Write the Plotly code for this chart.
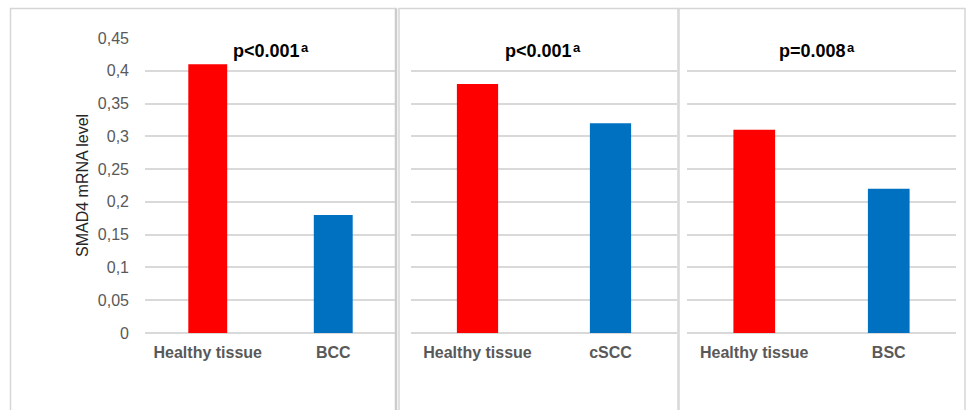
import plotly.graph_objects as go

W, H = 968, 410

# Data
panels = ["BCC", "cSCC", "BSC"]
categories = [["Healthy tissue", "BCC"], ["Healthy tissue", "cSCC"], ["Healthy tissue", "BSC"]]
values = [[0.41, 0.18], [0.38, 0.32], [0.31, 0.22]]
p_labels = ["p&lt;0.001", "p&lt;0.001", "p=0.008"]
p_note = "a"
y_ticks = [0, 0.05, 0.1, 0.15, 0.2, 0.25, 0.3, 0.35, 0.4, 0.45]
y_tick_text = ["0", "0,05", "0,1", "0,15", "0,2", "0,25", "0,3", "0,35", "0,4", "0,45"]
bar_colors = ["#FF0000", "#0070C0"]

# Pixel layout helpers
def px(x):
    return x / W

def py(y):
    return 1 - y / H

plot_x = [(145, 396), (411, 677), (687, 956)]
plot_y = (38, 333)
boxes = [(10.5, 396), (399, 678), (679, 965)]
p_text_end = [300, 572, 846]

FONT = "Liberation Sans, Arial, sans-serif"
GRID = "#d9d9d9"

fig = go.Figure()
for i in range(3):
    sfx = "" if i == 0 else str(i + 1)
    fig.add_trace(go.Bar(
        x=categories[i], y=values[i],
        marker=dict(color=bar_colors, line=dict(width=0)),
        width=0.31,
        xaxis="x" + sfx, yaxis="y" + sfx,
        showlegend=False, hoverinfo="x+y",
    ))
    fig.layout["xaxis" + sfx] = dict(
        domain=[px(plot_x[i][0]), px(plot_x[i][1])],
        anchor="y" + sfx, type="category",
        showgrid=False, showline=False, zeroline=False, ticks="",
        tickvals=categories[i],
        ticktext=["<b>%s</b>" % c for c in categories[i]],
        tickfont=dict(family=FONT, size=16, color="#595959"),
        ticklabelstandoff=8, fixedrange=True, automargin=False,
    )
    fig.layout["yaxis" + sfx] = dict(
        domain=[py(plot_y[1]), py(plot_y[0])],
        anchor="x" + sfx, range=[0, 0.45],
        tickvals=y_ticks, ticktext=y_tick_text,
        showticklabels=(i == 0),
        tickfont=dict(family=FONT, size=16, color="#595959"),
        showgrid=True, gridcolor=GRID, gridwidth=1.5,
        zeroline=True, zerolinecolor=GRID, zerolinewidth=1.5,
        showline=False, ticks="", ticklabelstandoff=15, fixedrange=True,
        automargin=False,
    )
    # p-value with its footnote marker
    fig.add_annotation(
        text="<b>%s</b>" % p_labels[i],
        xref="paper", yref="paper",
        x=px(p_text_end[i]), y=py(51),
        xanchor="right", yanchor="middle", showarrow=False,
        borderpad=0, borderwidth=0,
        font=dict(family=FONT, size=18, color="#000000"),
    )
    fig.add_annotation(
        text="<b>%s</b>" % p_note,
        xref="paper", yref="paper",
        x=px(p_text_end[i] + 0.5), y=py(47.5),
        xanchor="left", yanchor="middle", showarrow=False,
        borderpad=0, borderwidth=0,
        font=dict(family=FONT, size=13, color="#000000"),
    )

# Panel frames
for j, (x0, x1) in enumerate(boxes):
    fig.add_shape(type="rect", xref="paper", yref="paper",
                  x0=px(x0), x1=px(x1), y0=-0.2, y1=py(8.5),
                  line=dict(color="#d6d6d6", width=1.5), layer="below")
fig.add_shape(type="line", xref="paper", yref="paper",
              x0=px(396), x1=px(396), y0=-0.2, y1=py(8.5),
              line=dict(color="#cccccc", width=2.5))

# Y axis title
fig.add_annotation(
    text="SMAD4 mRNA level", xref="paper", yref="paper",
    x=px(83), y=py(186), textangle=-90, showarrow=False,
    xanchor="center", yanchor="middle",
    font=dict(family=FONT, size=16, color="#262626"),
)

fig.update_layout(
    width=W, height=H, autosize=False,
    margin=dict(l=0, r=0, t=0, b=0, pad=0),
    paper_bgcolor="white", plot_bgcolor="rgba(0,0,0,0)",
)

# Page without body margin so the figure fills the window exactly
page_js = (
    "document.documentElement.style.margin='0';"
    "document.body.style.margin='0';"
    "document.body.style.overflow='hidden';"
    "var gd=document.getElementById('{plot_id}');"
    "Plotly.relayout(gd,{width:%d,height:%d});" % (W, H)
)
fig.write_html("out.html", config={"responsive": False}, post_script=page_js)
